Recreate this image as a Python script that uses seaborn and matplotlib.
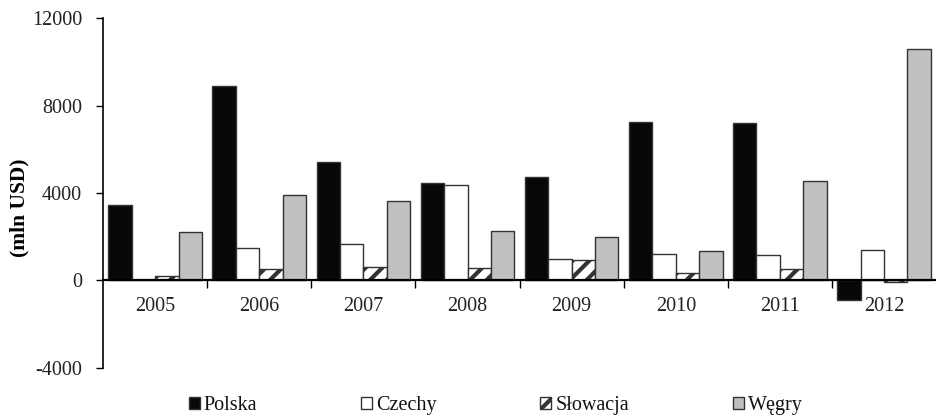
import numpy as np
import pandas as pd
import matplotlib
matplotlib.use("Agg")
import matplotlib.pyplot as plt
from matplotlib.patches import Patch
from matplotlib.ticker import FixedLocator
import seaborn as sns

years = ["2005", "2006", "2007", "2008", "2009", "2010", "2011", "2012"]
countries = ["Polska", "Czechy", "Słowacja", "Węgry"]
polska = [3460, 8900, 5440, 4450, 4730, 7250, 7230, -880]
czechy = [0, 1500, 1650, 4350, 980, 1190, 1180, 1370]
slowacja = [180, 540, 630, 570, 920, 340, 520, -60]
wegry = [2210, 3900, 3650, 2260, 2000, 1330, 4550, 10620]

colors = {"Polska": "#070707", "Czechy": "#ffffff", "Słowacja": "#ffffff", "Węgry": "#c0c0c0"}

df = pd.DataFrame({
    "rok": years * 4,
    "kraj": np.repeat(countries, len(years)),
    "wartosc": polska + czechy + slowacja + wegry,
})

sns.set_theme(style="white")
plt.rcParams["font.family"] = ["Liberation Serif", "DejaVu Serif"]
plt.rcParams["axes.unicode_minus"] = False
plt.rcParams["hatch.linewidth"] = 3.0
plt.rcParams["hatch.color"] = "black"
plt.rcParams["text.color"] = "#111111"
plt.rcParams["xtick.color"] = "black"
plt.rcParams["ytick.color"] = "black"
plt.rcParams["xtick.labelcolor"] = "#222222"
plt.rcParams["ytick.labelcolor"] = "#222222"
plt.rcParams["axes.labelcolor"] = "black"

FS = 14.5

fig = plt.figure(figsize=(9.37, 4.2), dpi=100)
ax = fig.add_axes([0.110, 0.1245, 0.889, 0.8315])

sns.barplot(data=df, x="rok", y="wartosc", hue="kraj", order=years,
            hue_order=countries, palette=colors, width=0.9,
            edgecolor="#333333", linewidth=1.0, legend=False, ax=ax, errorbar=None)

# hatch the Słowacja bars
n = len(years)
for i, patch in enumerate(ax.patches[:4 * n]):
    if i // n == 2:
        patch.set_hatch("//")

ax.set_xlim(-0.5, 7.5)
ax.set_ylim(-4000, 12000)
ax.set_yticks([-4000, 0, 4000, 8000, 12000])
ax.set_yticklabels(["-4000", "0", "4000", "8000", "12000"])

for s in ["top", "right"]:
    ax.spines[s].set_visible(False)
ax.spines["left"].set_color("black")
ax.spines["left"].set_linewidth(1.2)
ax.spines["bottom"].set_position(("data", 0))
ax.spines["bottom"].set_color("black")
ax.spines["bottom"].set_linewidth(1.6)
ax.spines["bottom"].set_zorder(5)

ax.tick_params(axis="y", which="major", direction="out", length=5, width=1,
               labelsize=FS, pad=10, left=True)
ax.tick_params(axis="x", which="major", length=0, pad=12, labelsize=FS)
ax.xaxis.set_minor_locator(FixedLocator(np.arange(0.5, 7.0, 1.0)))
ax.tick_params(axis="x", which="minor", direction="out", length=6, width=1,
               bottom=True)

ax.set_xlabel("")
ax.set_ylabel("(mln USD)", fontsize=15.5, fontweight="bold")
ax.yaxis.set_label_coords(-0.0885, 0.457)

handles = [Patch(facecolor=colors[c], edgecolor="#333333", linewidth=1.0,
                 hatch="//" if c == "Słowacja" else None) for c in countries]
fig.legend(handles, countries, loc="center", bbox_to_anchor=(0.529, 0.035), ncol=4,
           frameon=False, fontsize=FS, handlelength=0.55, handleheight=0.55,
           handletextpad=0.2, columnspacing=5.15)

fig.savefig("out.png", dpi=100)
